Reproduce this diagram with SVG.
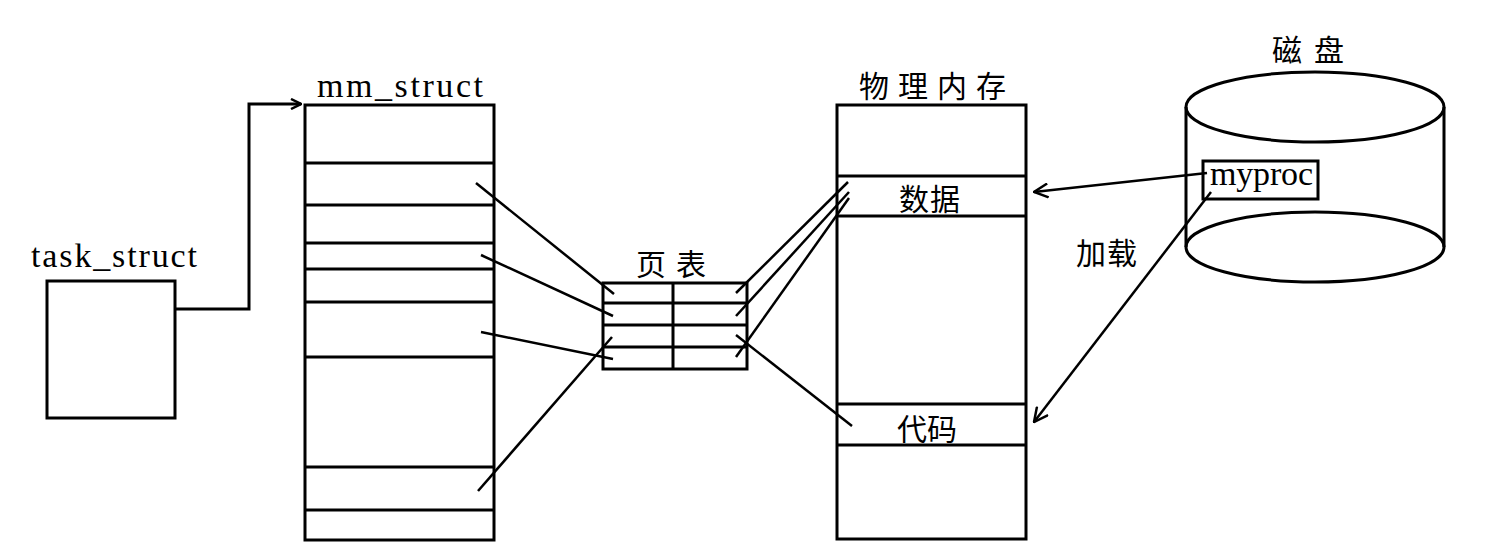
<svg xmlns="http://www.w3.org/2000/svg" width="1491" height="555" viewBox="0 0 1491 555">
<style>
.box{fill:#fff;stroke:#000;stroke-width:3}
.ln{stroke:#000;stroke-width:3;fill:none}
.thin{stroke:#000;stroke-width:2.5;fill:none}
.lat{font-family:"Liberation Serif",serif;font-size:34px;fill:#000}
.cjk{font-family:"Noto Sans CJK SC",sans-serif;font-size:30px;fill:#000}
</style>
<defs>
<marker id="arr" viewBox="0 0 12 12" refX="11" refY="6" markerWidth="12" markerHeight="12" markerUnits="userSpaceOnUse" orient="auto">
<path d="M1,1 L11,6 L1,11" fill="none" stroke="#000" stroke-width="2.5"/>
</marker>
<marker id="arr2" viewBox="0 0 16 16" refX="15" refY="8" markerWidth="16" markerHeight="16" markerUnits="userSpaceOnUse" orient="auto">
<path d="M1,1 L15,8 L1,15" fill="none" stroke="#000" stroke-width="2.5"/>
</marker>
</defs>
<g id="task_struct">
<rect class="box" x="47" y="281" width="128" height="137"/>
<text class="lat" x="31" y="267" textLength="166">task_struct</text>
</g>
<g id="mm_struct">
<rect class="box" x="305" y="105" width="189" height="435"/>
<path class="ln" d="M305,163H494M305,205H494M305,243H494M305,269H494M305,302H494M305,357H494M305,467H494M305,510H494"/>
<text class="lat" x="317" y="97" textLength="166">mm_struct</text>
</g>
<g id="page_table">
<rect class="box" x="603" y="283" width="144" height="86"/>
<path class="ln" d="M673,283V369M603,303H747M603,325H747M603,347H747"/>
<text class="cjk" x="636" y="275" font-size="32" textLength="70">页表</text>
</g>
<g id="phys_mem">
<rect class="box" x="837" y="105" width="189" height="434"/>
<path class="ln" d="M837,176H1026M837,216H1026M837,404H1026M837,445H1026"/>
<text class="cjk" x="859" y="97" font-size="33" textLength="147">物理内存</text>
<text class="cjk" x="899" y="210" textLength="61">数据</text>
<text class="cjk" x="897" y="440" textLength="60">代码</text>
</g>
<g id="disk">
<path class="ln" d="M1186,107V247M1444,107V247"/>
<ellipse class="ln" cx="1315" cy="107" rx="129" ry="35"/>
<path class="ln" d="M1186,247A129,35 0 0 0 1444,247A129,35 0 0 0 1186,247"/>
<text class="cjk" x="1272" y="61" font-size="31" textLength="72">磁盘</text>
<rect class="box" x="1203" y="161" width="115" height="38"/>
<text class="lat" x="1210" y="185" font-size="31" textLength="103">myproc</text>
</g>
<g id="connectors">
<polyline class="ln" points="175,309 249,309 249,104 301,104" marker-end="url(#arr)"/>
<line class="thin" x1="476" y1="183" x2="614" y2="294"/>
<line class="thin" x1="481" y1="255" x2="613" y2="316"/>
<line class="thin" x1="481" y1="332" x2="613" y2="359"/>
<line class="thin" x1="478" y1="491" x2="612" y2="337"/>
<line class="thin" x1="736" y1="293" x2="848" y2="182"/>
<line class="thin" x1="736" y1="316" x2="849" y2="192"/>
<line class="thin" x1="736" y1="357" x2="849" y2="198"/>
<line class="thin" x1="736" y1="335" x2="852" y2="426"/>
<line class="thin" x1="1207" y1="173" x2="1034" y2="192" marker-end="url(#arr2)"/>
<line class="thin" x1="1211" y1="192" x2="1034" y2="422" marker-end="url(#arr2)"/>
<text class="cjk" x="1076" y="264" textLength="61">加载</text>
</g>
</svg>
